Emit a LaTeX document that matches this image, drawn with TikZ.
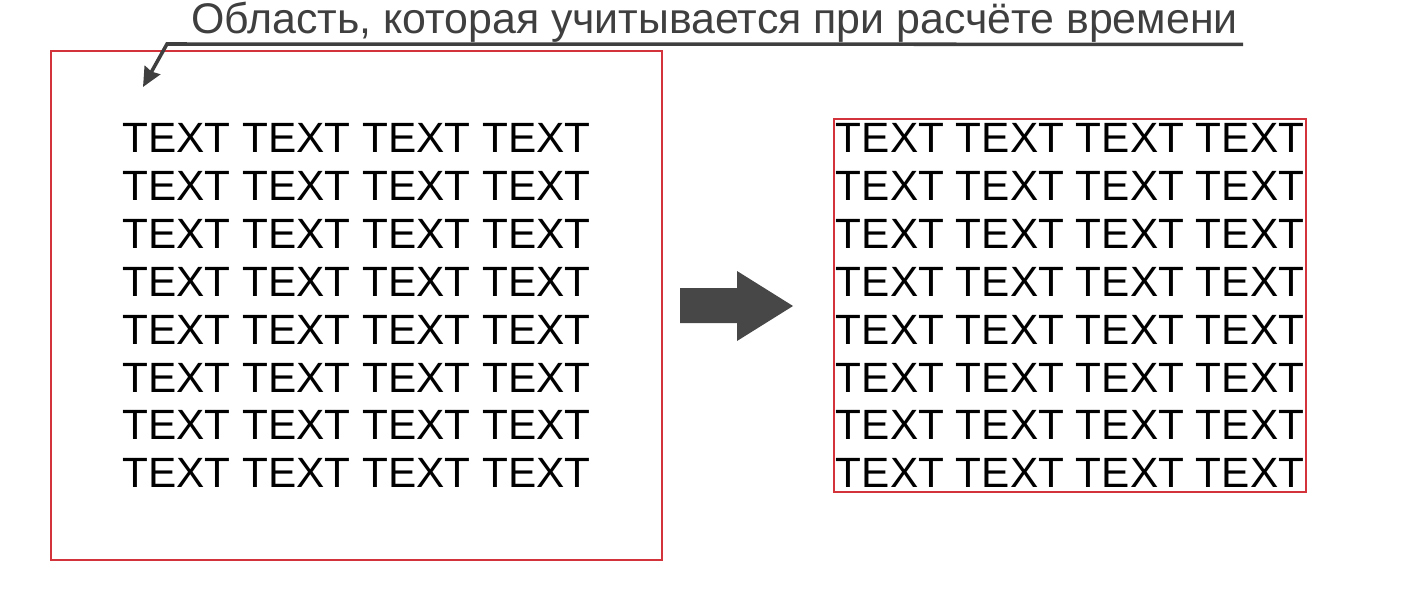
\documentclass[tikz,border=0pt]{standalone}
\usepackage{fontspec}
\usepackage{tikz}
\usetikzlibrary{positioning,calc,arrows.meta}
\newfontfamily\arialfont{Liberation Sans}
\definecolor{Frame}{HTML}{D3333A}
\definecolor{Pointer}{HTML}{3F3F3F}
\definecolor{BigArrow}{HTML}{474747}
\newcommand{\textrows}{TEXT TEXT TEXT TEXT\\TEXT TEXT TEXT TEXT\\TEXT TEXT TEXT TEXT\\TEXT TEXT TEXT TEXT\\TEXT TEXT TEXT TEXT\\TEXT TEXT TEXT TEXT\\TEXT TEXT TEXT TEXT\\TEXT TEXT TEXT TEXT}

\begin{document}
\begin{tikzpicture}[
			x=0.02cm,
			y=-0.02cm
			]
			\useasboundingbox (0,0) rectangle (1427,612);
			
			% Left area
			\node[
			draw=Frame,
			line width=1.1pt,
			minimum width=12.22cm,
			minimum height=10.18cm
			]
			(leftarea) at (356.5,305.5)
			{};
			
			\node[
			align=left,
			inner sep=0pt,
			font={\arialfont\fontsize{24.1pt}{27.3pt}\selectfont}
			]
			(lefttext) at (leftarea.center)
			{\textrows};
			
			% Right area
			\node[
			draw=Frame,
			line width=0.8pt,
			align=left,
			inner xsep=0.04cm,
			inner ysep=0.08cm,
			font={\arialfont\fontsize{24.1pt}{27.3pt}\selectfont}
			]
			(rightarea) at (1070,305.5)
			{\textrows};
			
			% Big arrow
			\fill[BigArrow] (680,288) -- (737,288) -- (737,271) -- (793,306)
			-- (737,341) -- (737,323) -- (680,323) -- cycle;
			
			% Title
			\node[
			anchor=base east,
			inner sep=0pt,
			text depth=0.21cm,
			text=Pointer,
			font={\arialfont\fontsize{24.4pt}{28pt}\selectfont}
			]
			(title) at (1238,33.5)
			{Область, которая учитывается при расчёте времени};
			
			\coordinate (bend) at (167,44);
			\coordinate (pointtip) at (143,87);
			\draw[
			Pointer,
			line width=2pt,
			-{Stealth[length=11pt,width=10pt,inset=1pt]}
			]
			($(title.south east)+(5,0)$) -- (bend) -- (pointtip);
			
		\end{tikzpicture}
\end{document}
